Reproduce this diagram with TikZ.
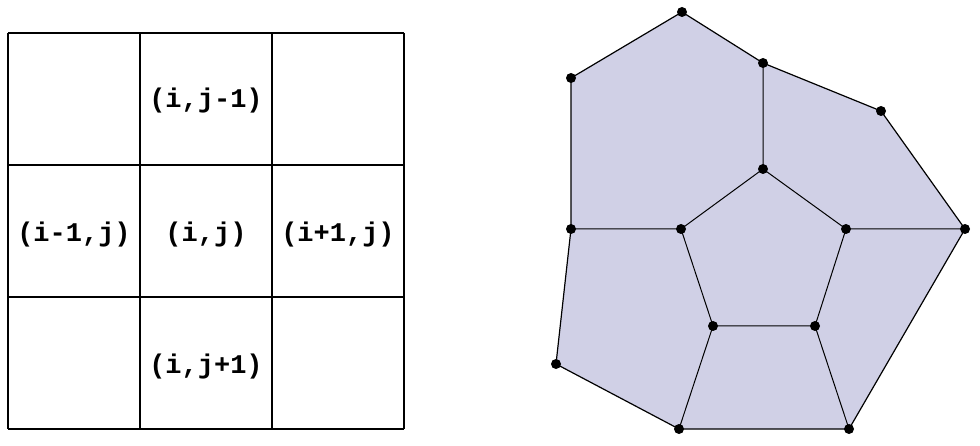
\documentclass[tikz,border=0pt]{standalone}
\usepackage{fontspec}
\setmonofont{Liberation Mono}
\usetikzlibrary{positioning}
\definecolor{meshfill}{RGB}{208,208,230}
\tikzset{
  cell/.style={font=\ttfamily\bfseries\fontsize{27}{30}\selectfont},
  dot/.style={circle,fill=black,inner sep=0pt,minimum size=10pt},
  edge/.style={line width=1.2pt}
}
\begin{document}
\begin{tikzpicture}[x=1pt,y=-1pt]
    \useasboundingbox (0,0) rectangle (980,446);
    % grid
    \foreach \i in {0,...,3} {
        \draw[line width=1.5pt] (8+132*\i,33) -- (8+132*\i,429);
        \draw[line width=1.5pt] (8,33+132*\i) -- (404,33+132*\i);
    }
    \node[cell] (c01) at (206,101) {(i,j-1)};
    \node[cell] (c10) at (74,235) {(i-1,j)};
    \node[cell] (c11) at (206,235) {(i,j)};
    \node[cell] (c21) at (338,235) {(i+1,j)};
    \node[cell] (c12) at (206,367) {(i,j+1)};
    % polygon mesh
    \fill[meshfill] (682,12) -- (763,63) -- (881,111) -- (965,229) -- (849,429)
        -- (679,429) -- (556,364) -- (571,229) -- (571,78) -- cycle;
    \foreach \n/\x/\y in {a/682/12,b/763/63,c/881/111,d/965/229,e/849/429,f/679/429,
        g/556/364,h/571/229,k/571/78,p/763/169,q/846/229,r/815/326,s/713/326,t/681/229}
        \coordinate (\n) at (\x,\y);
    \draw[edge] (a) -- (b) -- (c) -- (d) -- (e) -- (f) -- (g) -- (h) -- (k) -- cycle;
    \draw[line width=1pt] (p) -- (q) -- (r) -- (s) -- (t) -- cycle;
    \draw[line width=1pt] (b) -- (p) (h) -- (t) (q) -- (d) (s) -- (f) (r) -- (e);
    \foreach \n in {a,b,c,d,e,f,g,h,k,p,q,r,s,t}
        \node[dot] at (\n) {};
\end{tikzpicture}
\end{document}
